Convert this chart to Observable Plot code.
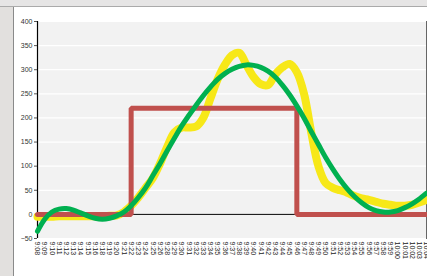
<!DOCTYPE html>
<html><head><meta charset="utf-8">
<script src="https://cdn.jsdelivr.net/npm/d3@7"></script>
<script src="https://cdn.jsdelivr.net/npm/@observablehq/plot@0.6"></script>
<style>
html,body{margin:0;padding:0;width:427px;height:276px;overflow:hidden;background:#e2e0de;}
#top{position:absolute;left:0;top:0;width:427px;height:6px;background:#e6e5e5;border-bottom:1px solid #aaa;}
#panel{position:absolute;left:13px;top:7px;width:414px;height:269px;background:#fff;border-left:1px solid #8a8a8a;}
#chart{position:absolute;left:0;top:0;width:427px;height:276px;}
#chart svg{max-width:none !important;width:427px;height:276px;overflow:visible;}
</style></head>
<body><div id="top"></div><div id="panel"></div><div id="chart"></div>
<script>
const times = ["9:08","9:09","9:10","9:11","9:12","9:13","9:14","9:15","9:16","9:18","9:19","9:20","9:21","9:22","9:23","9:24","9:25","9:26","9:28","9:29","9:30","9:31","9:32","9:33","9:34","9:35","9:36","9:37","9:38","9:39","9:40","9:41","9:42","9:43","9:44","9:45","9:46","9:47","9:48","9:49","9:50","9:51","9:52","9:53","9:54","9:55","9:56","9:57","9:58","9:59","10:00","10:01","10:02","10:03","10:04"];
const yellowValues = [-5,-5,-5,-4,-4,-4,-4,-4,-4,-4,-3,-2,5,18,35,55,75,105,140,170,180,180,182,200,240,280,310,330,335,310,285,270,268,290,305,312,295,250,170,100,65,55,50,45,38,33,30,26,22,20,18,18,20,25,30];
const redValues = [0,0,0,0,0,0,0,0,0,0,0,0,0,220,220,220,220,220,220,220,220,220,220,220,220,220,220,220,220,220,220,220,220,220,220,220,0,0,0,0,0,0,0,0,0,0,0,0,0,0,0,0,0,0,0];
const greenValues = [-35,-10,5,11,12,9,3,-3,-8,-10,-8,-3,5,18,35,55,80,105,132,158,183,205,226,246,264,280,292,301,307,310,309,305,297,285,268,248,225,200,172,145,118,94,72,53,37,24,14,8,5,5,8,14,22,32,44];
const yTicks = [-50,0,50,100,150,200,250,300,350,400];

const rows = (vals) => times.map((t,i) => ({t, v: vals[i]}));

const chart = Plot.plot({
  width: 427, height: 276,
  marginLeft: 37, marginRight: 1, marginTop: 21, marginBottom: 38,
  style: {background: "transparent", fontFamily: "Liberation Sans, Arial, sans-serif", fontSize: "7px", color: "#333", overflow: "visible"},
  x: {type: "point", domain: times, padding: 0, round: false},
  y: {domain: [-50, 400]},
  marks: [
    Plot.frame({fill: "#f2f2f2", stroke: "#666"}),
    Plot.gridY(yTicks, {stroke: "#fff", strokeOpacity: 1, strokeWidth: 1.2}),
    Plot.ruleY([0], {stroke: "#000", strokeWidth: 1}),
    Plot.ruleX([times[0]], {stroke: "#000", strokeWidth: 1.2}),
    Plot.axisY(yTicks, {tickSize: 3, tickPadding: 2, label: null, stroke: "#555", fill: "#333", fontSize: 7}),
    Plot.axisX(times, {tickSize: 0, tickPadding: 3, tickRotate: 90, label: null, fill: "#222", fontSize: 7}),
    Plot.line(rows(yellowValues), {x: "t", y: "v", stroke: "#f7e818", strokeWidth: 8, curve: "catmull-rom"}),
    Plot.line(rows(redValues), {x: "t", y: "v", stroke: "#c0504d", strokeWidth: 5, curve: "step-after", strokeLinejoin: "miter"}),
    Plot.line(rows(greenValues), {x: "t", y: "v", stroke: "#00b050", strokeWidth: 5, curve: "catmull-rom"})
  ]
});
document.getElementById("chart").appendChild(chart);
</script>
</body></html>
